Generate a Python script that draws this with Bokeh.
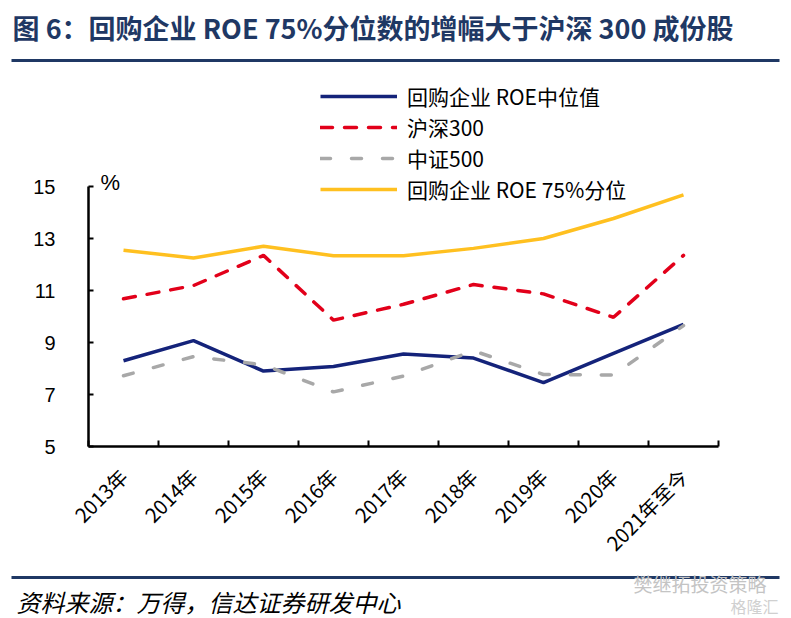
from math import pi
from bokeh.plotting import figure
from bokeh.models import FixedTicker, Label, Legend, LegendItem, Range1d, BoxAnnotation
from bokeh.embed import file_html
from bokeh.resources import INLINE

# ---- data ----
years = ["2013年", "2014年", "2015年", "2016年", "2017年", "2018年", "2019年", "2020年", "2021年至今"]
median_roe = [8.30, 9.07, 7.90, 8.08, 8.56, 8.40, 7.46, 8.58, 9.70]
hs300 = [10.68, 11.19, 12.35, 9.86, 10.47, 11.23, 10.87, 9.97, 12.35]
zz500 = [7.72, 8.46, 8.14, 7.10, 7.71, 8.68, 7.77, 7.75, 9.65]
p75_roe = [12.55, 12.25, 12.70, 12.34, 12.34, 12.62, 13.00, 13.77, 14.68]
y_ticks = [5, 7, 9, 11, 13, 15]

series_names = ["回购企业 ROE中位值", "沪深300", "中证500", "回购企业 ROE 75%分位"]
title_text = "图 6：回购企业 ROE 75%分位数的增幅大于沪深 300 成份股"
source_text = "资料来源：万得，信达证券研发中心"
watermark_1 = "樊继拓投资策略"
watermark_2 = "格隆汇"

NAVY = "#14237a"
RED = "#e2001a"
GRAY = "#a8a8a8"
GOLD = "#ffc020"
TITLE_C = "#1f3864"
CJK = "Noto Sans CJK SC"

# canvas / plot geometry (pixels)
W, H = 791, 618
AX_LEFT, AX_BOTTOM = 88, 446      # where the axes cross
CAT_W = 70                        # pixels per category
PX_PER_UNIT = 26                  # pixels per 1 % on the y axis

n = len(years)
x = list(range(n))
x0 = -0.5 - AX_LEFT / CAT_W
x1 = -0.5 + (W - AX_LEFT) / CAT_W
y0 = 5 - (H - AX_BOTTOM) / PX_PER_UNIT
y1 = 5 + AX_BOTTOM / PX_PER_UNIT

p = figure(width=W, height=H, output_backend="svg", toolbar_location=None, title=None,
           x_range=Range1d(x0, x1), y_range=Range1d(y0, y1),
           min_border=0, min_border_left=0, min_border_right=0,
           min_border_top=0, min_border_bottom=0)
p.outline_line_color = None
p.grid.visible = False
p.background_fill_color = "white"
p.border_fill_color = "white"

xa = p.xaxis[0]
xa.fixed_location = 5
xa.bounds = (-0.5, n - 0.5)
xa.ticker = FixedTicker(ticks=x, minor_ticks=[i - 0.5 for i in range(n + 1)])
xa.major_label_overrides = {i: years[i] for i in x}
xa.major_tick_in = 0
xa.major_tick_out = 0
xa.minor_tick_in = 6
xa.minor_tick_out = 0
xa.minor_tick_line_color = "black"
xa.minor_tick_line_width = 2
xa.axis_line_width = 2.5
xa.axis_line_color = "black"
xa.major_label_orientation = pi / 4
xa.major_label_standoff = 26
xa.major_label_text_font = CJK
xa.major_label_text_font_size = "20px"
xa.major_label_text_color = "black"

ya = p.yaxis[0]
ya.fixed_location = -0.5
ya.bounds = (5, 15)
ya.ticker = FixedTicker(ticks=y_ticks)
ya.major_tick_in = 5
ya.major_tick_out = 0
ya.minor_tick_in = 0
ya.minor_tick_out = 0
ya.major_tick_line_width = 2
ya.major_tick_line_color = "black"
ya.axis_line_width = 2.5
ya.axis_line_color = "black"
ya.major_label_standoff = 33
ya.major_label_text_font = "Liberation Sans"
ya.major_label_text_font_size = "20px"
ya.major_label_text_color = "black"

r1 = p.line(x, median_roe, line_color=NAVY, line_width=3.5)
r2 = p.line(x, hs300, line_color=RED, line_width=3.5, line_dash="12 12", line_cap="round")
r3 = p.line(x, zz500, line_color=GRAY, line_width=3.5, line_dash="10 21", line_cap="round")
r4 = p.line(x, p75_roe, line_color=GOLD, line_width=3.5)

legend = Legend(items=[LegendItem(label=series_names[0], renderers=[r1]),
                       LegendItem(label=series_names[1], renderers=[r2]),
                       LegendItem(label=series_names[2], renderers=[r3]),
                       LegendItem(label=series_names[3], renderers=[r4])],
                location=(320, H - 204), orientation="vertical",
                border_line_color=None, background_fill_alpha=0,
                padding=0, margin=0, spacing=1,
                glyph_width=77, glyph_height=30, label_height=30, label_standoff=10,
                label_text_font=CJK, label_text_font_size="21px", label_text_color="black")
p.add_layout(legend)


def screen_label(px, py, text, **kw):
    """Label positioned in canvas pixels measured from the top-left corner."""
    return Label(x=px, y=H - py, x_units="screen", y_units="screen", text=text,
                 text_baseline="middle", **kw)


def rule(px0, px1, py, thick=3):
    return BoxAnnotation(left=px0, right=px1, bottom=H - py - thick / 2, top=H - py + thick / 2,
                         left_units="screen", right_units="screen",
                         bottom_units="screen", top_units="screen",
                         fill_color=TITLE_C, fill_alpha=1, line_color=None)


p.add_layout(screen_label(100, 182, "%", text_font="Liberation Sans",
                          text_font_size="22px", text_color="black"))

# title + rule
p.add_layout(screen_label(12, 27, title_text, text_font=CJK, text_font_size="27px",
                          text_font_style="bold", text_color=TITLE_C))
p.add_layout(rule(11, 779, 60))

# footer
p.add_layout(rule(11, 779, 577))
p.add_layout(screen_label(16, 601, source_text, text_font=CJK, text_font_size="24px",
                          text_font_style="italic", text_color="black"))
p.add_layout(screen_label(633, 583, watermark_1, text_font=CJK, text_font_size="19px",
                          text_color="#c4c4c4"))
p.add_layout(screen_label(730, 605, watermark_2, text_font=CJK, text_font_size="16px",
                          text_color="#d0d0d0"))

open("out.html", "w").write(file_html(p, INLINE))
